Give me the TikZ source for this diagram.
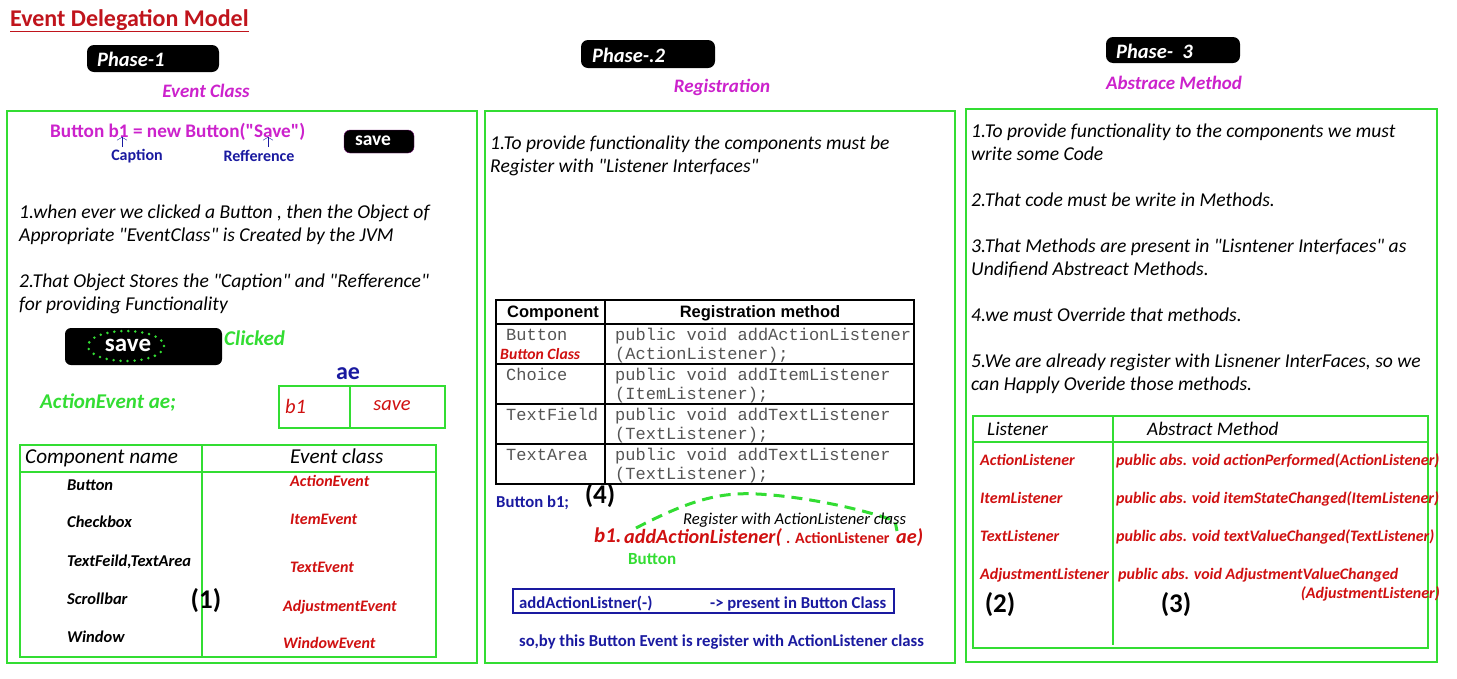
\documentclass[tikz,border=0pt]{standalone}
\usepackage{fontspec}
\setmainfont{Carlito}[Ligatures=TeXOff]
\setsansfont{Liberation Sans}
\setmonofont{Liberation Mono}
\usetikzlibrary{positioning,arrows.meta}
\definecolor{edGreen}{HTML}{33DD33}
\definecolor{edMagenta}{HTML}{CC22CC}
\definecolor{edRed}{HTML}{D01010}
\definecolor{edTitle}{HTML}{C0141C}
\definecolor{edBlue}{HTML}{1A1AA0}
\definecolor{edGray}{HTML}{555555}

\tikzset{
  para/.style={anchor=base west,inner sep=0pt,align=left,font=\fontsize{19.6}{23}\selectfont\itshape},
  phasebox/.style={fill=black,rounded corners=7pt},
  phasetxt/.style={anchor=west,inner sep=0pt,text=white,font=\fontsize{20.5}{22}\selectfont\bfseries\itshape},
  subhead/.style={inner sep=0pt,text=edMagenta,font=\fontsize{19}{21}\selectfont\bfseries\itshape},
  panel/.style={draw=edGreen,line width=2pt},
  grid/.style={draw=edGreen,line width=1.2pt},
  redit/.style={anchor=base west,inner sep=0pt,text=edRed,font=\fontsize{16}{18}\selectfont\bfseries\itshape},
  rowtxt/.style={anchor=base west,inner sep=0pt,font=\fontsize{16.5}{18}\selectfont\bfseries\itshape},
  code/.style={anchor=base west,inner sep=0pt,text=edGray,align=left,font=\fontsize{17}{19.5}\selectfont\ttfamily},
  bluetxt/.style={anchor=base west,inner sep=0pt,text=edBlue,font=\fontsize{16.7}{18}\selectfont\bfseries},
  num/.style={inner sep=0pt,font=\fontsize{27}{29}\selectfont\bfseries},
}

\begin{document}
\begin{tikzpicture}[x=1pt,y=-1pt]
  \useasboundingbox[fill=white] (0,0) rectangle (1457,678);

  % title
  \node[anchor=base west,inner sep=0pt,text=edTitle,font=\fontsize{24}{26}\selectfont\bfseries]
    (title) at (10,26) {\underline{Event Delegation Model}};

  % phase badges
  \fill[phasebox] (87,45) rectangle (219,72);
  \node[phasetxt] (ph1) at (97,59) {Phase-1};
  \fill[phasebox] (581,40) rectangle (715,68);
  \node[phasetxt] (ph2) at (592,55) {Phase-.2};
  \fill[phasebox] (1106,37) rectangle (1240,63);
  \node[phasetxt] (ph3) at (1116,51) {Phase-\ \ 3};

  \node[subhead] (sub1) at (206,91) {Event Class};
  \node[subhead] (sub2) at (722,87) {Registration};
  \node[subhead] (sub3) at (1174,83) {Abstrace Method};

  % panels
  \draw[panel] (7,111) rectangle (477,663);
  \draw[panel] (485,111) rectangle (955,663);
  \draw[panel] (966,109) rectangle (1437,662);

  %% phase 1
  \node[anchor=base west,inner sep=0pt,text=edMagenta,font=\fontsize{19.2}{21}\selectfont\bfseries]
    (code1) at (50,137) {Button b1 = new Button("Save")};
  \coordinate (capA) at (122,147);
  \coordinate (capB) at (122,137);
  \coordinate (refA) at (268,147);
  \coordinate (refB) at (268,137);
  \draw[edBlue,thin,-{Straight Barb[length=3pt,width=10pt]}] (capA) -- (capB);
  \draw[edBlue,thin,-{Straight Barb[length=3pt,width=10pt]}] (refA) -- (refB);
  \node[inner sep=0pt,text=edBlue,font=\fontsize{16}{18}\selectfont\bfseries] (cap) at (137,156) {Caption};
  \node[inner sep=0pt,text=edBlue,font=\fontsize{16}{18}\selectfont\bfseries] (ref) at (259,156) {Refference};
  \fill[black,rounded corners=6pt,draw=edMagenta!60!black] (344,130) rectangle (414,153);
  \node[inner sep=0pt,text=white,font=\fontsize{19.5}{21}\selectfont\bfseries] (btn1) at (373,141) {save};

  \node[para] (p1a) at (19,241) {1.when ever we clicked a Button , then the Object of\\Appropriate "EventClass" is Created by the JVM};
  \node[para] (p1b) at (19,310) {2.That Object Stores the "Caption" and "Refference"\\for providing Functionality};

  \fill[black,rounded corners=6pt] (65,328) rectangle (222,365);
  \node[inner sep=0pt,text=white,font=\fontsize{25}{27}\selectfont\bfseries] (btn2) at (128,345) {save};
  \draw[edGreen,line width=2.8pt,dash pattern=on 0pt off 7pt,line cap=round] (126,346) ellipse (38 and 15);
  \node[anchor=west,inner sep=0pt,text=edGreen,font=\fontsize{21}{23}\selectfont\bfseries\itshape] (clk) at (224,338) {Clicked};

  \node[inner sep=0pt,text=edBlue,font=\fontsize{24}{26}\selectfont\bfseries] (ae) at (348,374) {ae};
  \node[anchor=west,inner sep=0pt,text=edGreen,font=\fontsize{21}{23}\selectfont\bfseries\itshape] (aedecl) at (40,403) {ActionEvent ae;};
  \draw[grid] (279,386) rectangle (445,428);
  \draw[grid] (350,386) -- (350,428);
  \node[anchor=west,inner sep=0pt,text=edRed,font=\fontsize{20.5}{22}\selectfont\itshape] (aeb) at (285,406) {b1};
  \node[inner sep=0pt,text=edRed,font=\fontsize{20.5}{22}\selectfont\itshape] (aes) at (392,406) {save};

  % table (1)
  \draw[grid] (20,445) rectangle (436,657);
  \draw[edGreen,line width=2pt] (20,472) -- (436,472);
  \draw[edGreen,line width=2pt] (202,445) -- (202,657);
  \node[anchor=base west,inner sep=0pt,font=\fontsize{21.2}{23}\selectfont\itshape] (th1) at (25,463) {Component name};
  \node[anchor=base west,inner sep=0pt,font=\fontsize{21.2}{23}\selectfont\itshape] (th2) at (290,463) {Event class};
  \node[rowtxt] (c1) at (67,490) {Button};
  \node[rowtxt] (c2) at (67,527) {Checkbox};
  \node[rowtxt] (c3) at (67,566) {TextFeild,TextArea};
  \node[rowtxt] (c4) at (67,604) {Scrollbar};
  \node[rowtxt] (c5) at (67,642) {Window};
  \node[redit] (e1) at (290,486) {ActionEvent};
  \node[redit] (e2) at (290,524) {ItemEvent};
  \node[redit] (e3) at (290,572) {TextEvent};
  \node[redit] (e4) at (283,611) {AdjustmentEvent};
  \node[redit] (e5) at (283,648) {WindowEvent};
  \node[num] (n1) at (206,601) {(1)};

  %% phase 2
  \node[para] (p2a) at (490,172) {1.To provide functionality the components must be\\Register with "Listener Interfaces"};

  \draw[black,line width=1.5pt] (496,300) rectangle (914,484);
  \foreach \yy in {324,364,404,444} \draw[black,line width=1.2pt] (496,\yy) -- (914,\yy);
  \draw[black,line width=1.2pt] (605,300) -- (605,484);
  \node[inner sep=0pt,font=\fontsize{16.5}{18}\selectfont\sffamily\bfseries] (rh1) at (553,313) {Component};
  \node[inner sep=0pt,font=\fontsize{16.5}{18}\selectfont\sffamily\bfseries] (rh2) at (760,313) {Registration method};
  \node[code] (r1) at (506,340) {Button};
  \node[anchor=base west,inner sep=0pt,text=edRed,font=\fontsize{15.7}{17}\selectfont\bfseries\itshape] (bcls) at (500,359) {Button Class};
  \node[code] (r2) at (506,380) {Choice};
  \node[code] (r3) at (506,420) {TextField};
  \node[code] (r4) at (506,460) {TextArea};
  \node[code] (m1) at (615,359.5) {public void addActionListener\\(ActionListener);};
  \node[code] (m2) at (615,399.5) {public void addItemListener\\(ItemListener);};
  \node[code] (m3) at (615,439.5) {public void addTextListener\\(TextListener);};
  \node[code] (m4) at (615,479.5) {public void addTextListener\\(TextListener);};

  \node[bluetxt] (bdecl) at (496,507) {Button b1;};
  \node[num] (n4) at (600,496) {(4)};

  \coordinate (arcA) at (636,528);
  \coordinate (arcTop) at (757,494);
  \coordinate (arcB) at (895,521);
  \coordinate (arcC) at (897,531);
  \draw[edGreen,line width=3pt,dash pattern=on 11pt off 7pt]
    (arcA) .. controls (690,500) and (720,492) .. (arcTop)
    .. controls (800,496) and (860,508) .. (arcB) -- (arcC);
  \node[anchor=base west,inner sep=0pt,font=\fontsize{16.6}{18}\selectfont\itshape] (regw) at (683,524) {Register with ActionListener class};
  \node[anchor=base west,inner sep=0pt,text=edRed,font=\fontsize{21}{23}\selectfont\bfseries\itshape] (call1) at (594,542) {b1.};
  \node[anchor=base west,inner sep=0pt,text=edRed,font=\fontsize{20.2}{23}\selectfont\bfseries\itshape] (call2) at (624,543) {addActionListener(};
  \node[anchor=base west,inner sep=0pt,text=edRed,font=\fontsize{15.8}{17}\selectfont\bfseries] (call3) at (786,543) {. ActionListener};
  \node[anchor=base west,inner sep=0pt,text=edRed,font=\fontsize{20.2}{23}\selectfont\bfseries\itshape] (call4) at (896,543) {ae)};
  \node[anchor=base west,inner sep=0pt,text=edGreen,font=\fontsize{17}{19}\selectfont\bfseries] (btnlbl) at (628,564) {Button};

  \draw[edBlue,line width=1.2pt] (513,589) rectangle (894,613);
  \node[bluetxt] (ali) at (519,608) {addActionListner(-)};
  \node[bluetxt] (pres) at (710,608) {-> present in Button Class};
  \node[bluetxt] (sob) at (519,646) {so,by this Button Event is register with ActionListener class};

  %% phase 3
  \node[para] (q1) at (971,160) {1.To provide functionality to the components we must\\write some Code};
  \node[para] (q2) at (971,206) {2.That code must be write in Methods.};
  \node[para] (q3) at (971,275) {3.That Methods are present in "Lisntener Interfaces" as\\Undifiend Abstreact Methods.};
  \node[para] (q4) at (971,321) {4.we must Override that methods.};
  \node[para] (q5) at (971,390) {5.We are already register with Lisnener InterFaces, so we\\can Happly Overide those methods.};

  \draw[grid] (973,416) rectangle (1428,648);
  \draw[edGreen,line width=2pt] (973,442) -- (1428,442);
  \draw[edGreen,line width=2pt] (1113,416) -- (1113,645);
  \node[anchor=base west,inner sep=0pt,font=\fontsize{19.2}{21}\selectfont\itshape] (lh1) at (987,435) {Listener};
  \node[anchor=base west,inner sep=0pt,font=\fontsize{19.2}{21}\selectfont\itshape] (lh2) at (1147,435) {Abstract Method};
  \node[redit] (l1) at (980,465) {ActionListener};
  \node[redit] (l2) at (980,503) {ItemListener};
  \node[redit] (l3) at (980,541) {TextListener};
  \node[redit] (l4) at (980,579) {AdjustmentListener};
  \node[redit] (a1) at (1116,465) {public abs. void actionPerformed(ActionListener)};
  \node[redit] (a2) at (1116,503) {public abs. void itemStateChanged(ItemListener)};
  \node[redit] (a3) at (1116,541) {public abs. void textValueChanged(TextListener)};
  \node[redit] (a4) at (1118,579) {public abs. void AdjustmentValueChanged};
  \node[redit,anchor=base east] (a4b) at (1440,598) {(AdjustmentListener)};
  \node[num] (n2) at (1000,605) {(2)};
  \node[num] (n3) at (1176,605) {(3)};
\end{tikzpicture}
\end{document}
